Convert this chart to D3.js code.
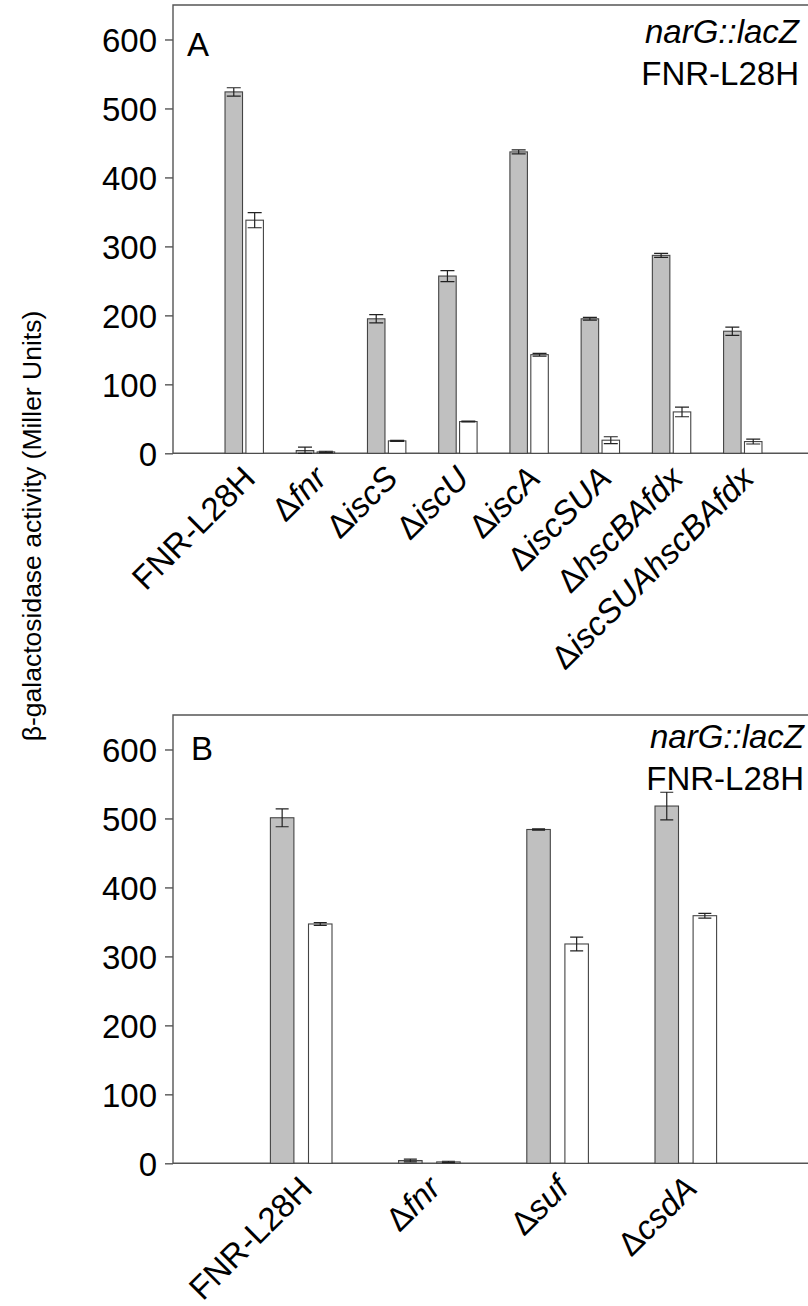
<!DOCTYPE html>
<html>
<head>
<meta charset="utf-8">
<script src="https://cdn.jsdelivr.net/npm/d3@7"></script>
<style>
  html, body { margin: 0; padding: 0; background: #fff; }
  svg { display: block; font-family: "Liberation Sans", Arial, sans-serif; }
</style>
</head>
<body>
<svg id="chart" width="808" height="1306"></svg>
<script>
// ---------- DATA ----------
const catsA = [
  {d: false, name: "FNR-L28H"},
  {d: true, name: "fnr"},
  {d: true, name: "iscS"},
  {d: true, name: "iscU"},
  {d: true, name: "iscA"},
  {d: true, name: "iscSUA"},
  {d: true, name: "hscBAfdx"},
  {d: true, name: "iscSUAhscBAfdx"}
];
const grayA    = [524, 4, 195, 257, 437, 195, 287, 177];
const grayErrA = [6, 5, 6, 8, 3, 2, 3, 6];
const whiteA    = [338, 2, 18, 46, 143, 19, 60, 17];
const whiteErrA = [11, 1, 0.6, 0.6, 2, 5, 7, 3.5];

const catsB = [
  {d: false, name: "FNR-L28H"},
  {d: true, name: "fnr"},
  {d: true, name: "suf"},
  {d: true, name: "csdA"}
];
const grayB    = [501, 4, 484, 518];
const grayErrB = [13, 2, 0.8, 20];
const whiteB    = [347, 2, 318, 359];
const whiteErrB = [2, 1, 10, 3.5];

const yTicks = [0, 100, 200, 300, 400, 500, 600];
const yMax = 650;
const yTitle = "β-galactosidase activity (Miller Units)";
const annot1 = "narG::lacZ";
const annot2 = "FNR-L28H";

// ---------- DRAW ----------
const svg = d3.select("#chart");
const axisColor = "#555";

function panel(opts) {
  const {cats, gray, grayErr, white, whiteErr, top, bottom, left, right,
         bw, gap, cap, letter, letterPos, annotRight, annotY} = opts;
  const g = svg.append("g");
  const y = d3.scaleLinear().domain([0, yMax]).range([bottom, top]);
  const x = d3.scaleLinear().domain([0, cats.length + 1]).range([left, right]);

  // frame
  g.append("path")
    .attr("d", `M${left},${bottom}V${top}H${right}V${bottom}Z`)
    .attr("fill", "none").attr("stroke", axisColor).attr("stroke-width", 1.4);

  // y axis
  const ax = g.append("g").attr("transform", `translate(${left},0)`)
    .call(d3.axisLeft(y).tickValues(yTicks).tickSize(8).tickPadding(8).tickSizeOuter(0));
  ax.select(".domain").remove();
  ax.selectAll(".tick line").attr("stroke", axisColor).attr("stroke-width", 1.4);
  ax.selectAll(".tick text").attr("fill", "#000")
    .style("font-size", "33px").style("font-family", '"Liberation Sans", Arial, sans-serif')
    .attr("dy", "0.36em");

  const data = cats.map((c, i) => ({c, i, gv: gray[i], ge: grayErr[i], wv: white[i], we: whiteErr[i]}));

  const grp = g.selectAll(".grp").data(data).enter().append("g");
  // gray bars
  grp.append("rect")
    .attr("x", d => x(d.i + 1) - gap / 2 - bw)
    .attr("y", d => y(d.gv))
    .attr("width", bw)
    .attr("height", d => y(0) - y(d.gv))
    .attr("fill", "#c0c0c0").attr("stroke", "#444").attr("stroke-width", 1.1);
  grp.append("rect")
    .attr("x", d => x(d.i + 1) + gap / 2)
    .attr("y", d => y(d.wv))
    .attr("width", bw)
    .attr("height", d => y(0) - y(d.wv))
    .attr("fill", "#fff").attr("stroke", "#444").attr("stroke-width", 1.1);

  // error bars
  function err(sel, cxf, vf, ef) {
    sel.append("path")
      .attr("d", d => {
        const cx = cxf(d), hi = y(vf(d) + ef(d)), lo = Math.min(y(Math.max(0, vf(d) - ef(d))), y(0));
        return `M${cx - cap / 2},${hi}H${cx + cap / 2}M${cx},${hi}V${lo}M${cx - cap / 2},${lo}H${cx + cap / 2}`;
      })
      .attr("fill", "none").attr("stroke", "#222").attr("stroke-width", 1.2);
  }
  err(grp, d => x(d.i + 1) - gap / 2 - bw / 2, d => d.gv, d => d.ge);
  err(grp, d => x(d.i + 1) + gap / 2 + bw / 2, d => d.wv, d => d.we);

  // x labels
  grp.append("text")
    .attr("transform", d => `translate(${x(d.i + 1) + 13},${bottom + 27}) rotate(-45)`)
    .attr("text-anchor", "end")
    .style("font-size", "33px")
    .each(function(d) {
      const t = d3.select(this);
      if (d.c.d) {
        t.append("tspan").text("Δ");
        t.append("tspan").style("font-style", "italic").text(d.c.name);
      } else {
        t.text(d.c.name);
      }
    });

  // panel letter
  g.append("text").attr("x", letterPos[0]).attr("y", letterPos[1])
    .style("font-size", "33px").text(letter);

  // annotation
  g.append("text").attr("x", annotRight).attr("y", annotY[0]).attr("text-anchor", "end")
    .style("font-size", "33px").style("font-style", "italic").text(annot1);
  g.append("text").attr("x", annotRight).attr("y", annotY[1]).attr("text-anchor", "end")
    .style("font-size", "33px").text(annot2);
}

panel({cats: catsA, gray: grayA, grayErr: grayErrA, white: whiteA, whiteErr: whiteErrA,
       top: 5, bottom: 453.3, left: 173, right: 814, bw: 17.5, gap: 3.4, cap: 14,
       letter: "A", letterPos: [187, 56], annotRight: 799, annotY: [43, 85]});
panel({cats: catsB, gray: grayB, grayErr: grayErrB, white: whiteB, whiteErr: whiteErrB,
       top: 715, bottom: 1163.3, left: 173, right: 814, bw: 23.5, gap: 14.6, cap: 13,
       letter: "B", letterPos: [191, 760], annotRight: 804, annotY: [748, 790]});

// y title
svg.append("text")
  .attr("transform", "translate(41,526) rotate(-90)")
  .attr("text-anchor", "middle")
  .style("font-size", "26.5px")
  .text(yTitle);
</script>
</body>
</html>
